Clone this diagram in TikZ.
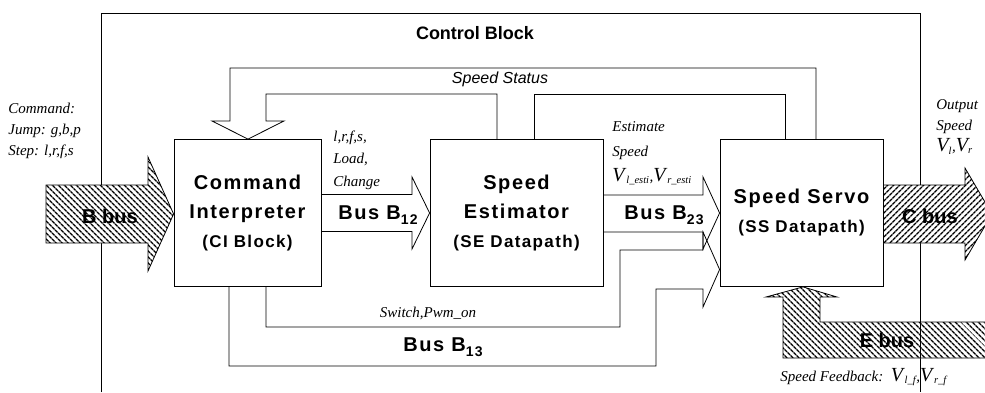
\documentclass[tikz,border=0pt]{standalone}
\usepackage{fontspec}
\setmainfont{Liberation Serif}
\setsansfont{Liberation Sans}
\newfontfamily\wsans[LetterSpace=8]{Liberation Sans}
\usetikzlibrary{patterns.meta}
\newcommand{\busB}[1]{B\raisebox{-5pt}{\fontsize{14}{14}\selectfont #1}}
\begin{document}
\begin{tikzpicture}[x=1pt,y=-1pt,line width=0.8pt,
  box/.style={draw,inner sep=0pt,align=center,font=\wsans\bfseries\fontsize{20}{29}\selectfont},
  lbl/.style={inner sep=0pt,font=\fontsize{15}{17}\selectfont\itshape},
  buslbl/.style={inner sep=0pt,font=\wsans\bfseries\fontsize{20}{24}\selectfont},
  hatchL/.style={draw,preaction={fill=white},pattern={Lines[angle=-45,distance=4pt,line width=1.4pt]}},
  hatchR/.style={draw,preaction={fill=white},pattern={Lines[angle=45,distance=4pt,line width=1.4pt]}},
  hollow/.style={draw,line join=miter}]
\useasboundingbox (0,0) rectangle (985,392);
% control block frame
\coordinate (fbl) at (101,392);
\coordinate (ftl) at (101,13);
\coordinate (ftr) at (920,13);
\coordinate (fbr) at (920,392);
\draw (fbl) -- (ftl) -- (ftr) -- (fbr);
\node[inner sep=0pt,font=\sffamily\bfseries\fontsize{18}{20}\selectfont] (ctl) at (475,33) {Control Block};
% boxes
\node[box,minimum width=147pt,minimum height=147pt] (CI) at (247.5,213) {Command\\Interpreter\\{\fontsize{17}{20}\selectfont (CI Block)}};
\node[box,minimum width=173pt,minimum height=147pt] (SE) at (516.5,213) {Speed\\Estimator\\{\fontsize{17}{20}\selectfont (SE Datapath)}};
\node[box,minimum width=163pt,minimum height=147pt] (SS) at (801.5,213) {Speed Servo\\{\fontsize{17}{20}\selectfont (SS Datapath)}};
% speed status feedback
\draw[hollow] (SE.north -| 497,0) -- (497,94) -- (266,94) -- (266,121) -- (284,121)
  -- (CI.north -| 248,0) -- (212,121) -- (230,121) -- (230,68) -- (816,68) -- (SS.north -| 816,0);
\draw (SE.north -| 534,0) -- (534,94) -- (785,94) -- (SS.north -| 785,0);
\node[inner sep=0pt,font=\sffamily\itshape\fontsize{16}{18}\selectfont] (sst) at (500,79) {Speed Status};
% Bus B12
\draw[hollow] (CI.east |- 0,194.5) -- (412,194.5) -- (412,177) -- (SE.west |- 0,213) -- (412,249) -- (412,231.5) -- (CI.east |- 0,231.5);
\node[buslbl] (b12) at (378,215) {Bus \busB{12}};
\node[lbl,anchor=west,align=left,font=\fontsize{15}{22.5}\selectfont\itshape] (c12) at (333,160) {l,r,f,s,\\Load,\\Change};
% Bus B23
\draw[hollow] (SE.east |- 0,195) -- (703,195) -- (703,177) -- (SS.west |- 0,213) -- (703,249) -- (703,232) -- (SE.east |- 0,232);
\node[buslbl] (b23) at (664,215) {Bus \busB{23}};
\node[lbl,anchor=west,align=left,font=\fontsize{15}{25}\selectfont\itshape] (c23) at (612,153) {Estimate\\Speed\\{\fontsize{20}{20}\selectfont V}\textsubscript{\,l\_esti},{\fontsize{20}{20}\selectfont V}\textsubscript{\,r\_esti}};
% Bus B13
\draw[hollow] (CI.south -| 229,0) -- (229,366) -- (656,366) -- (656,289) -- (703,289) -- (703,307)
  -- (SS.west |- 0,269.5) -- (703,232) -- (703,250) -- (620,250) -- (620,327) -- (266,327) -- (CI.south -| 266,0);
\node[lbl] (c13) at (428,313) {Switch,Pwm\_on};
\node[buslbl] (b13) at (443,347) {Bus \busB{13}};
% B bus
\draw[hatchL] (46,185) -- (148,185) -- (148,157) -- (CI.west |- 0,214) -- (148,271) -- (148,243) -- (46,243) -- cycle;
\node[inner sep=0pt,font=\sffamily\bfseries\fontsize{20}{24}\selectfont] (bbus) at (110,216) {B bus};
\node[lbl,anchor=west,align=left,font=\fontsize{15}{21}\selectfont\itshape] (cmd) at (8,131) {Command:\\Jump: g,b,p\\Step: l,r,f,s};
% C bus
\draw[hatchR] (SS.east |- 0,185) -- (965,185) -- (965,168) -- (992,214) -- (965,260) -- (965,243) -- (SS.east |- 0,243) -- cycle;
\node[inner sep=0pt,font=\sffamily\bfseries\fontsize{20}{24}\selectfont] (cbus) at (930,216) {C bus};
\node[lbl,anchor=west,align=left,font=\fontsize{15}{21}\selectfont\itshape] (out) at (936,127) {Output\\Speed\\{\fontsize{20}{20}\selectfont V}\textsubscript{l},{\fontsize{20}{20}\selectfont V}\textsubscript{r}};
% E bus
\draw[hatchL] (SS.south -| 803,0) -- (837,297) -- (820,297) -- (820,322) -- (990,322) -- (990,358) -- (783,358) -- (783,297) -- (766,297) -- cycle;
\draw (920,322) -- (920,358);
\node[inner sep=0pt,font=\sffamily\bfseries\fontsize{20}{24}\selectfont] (ebus) at (887,340) {E bus};
\node[lbl,anchor=west] (fb) at (780,377) {Speed Feedback:\ \ {\fontsize{20}{20}\selectfont V}\textsubscript{\,l\_f},{\fontsize{20}{20}\selectfont V}\textsubscript{\,r\_f}};
\end{tikzpicture}
\end{document}
